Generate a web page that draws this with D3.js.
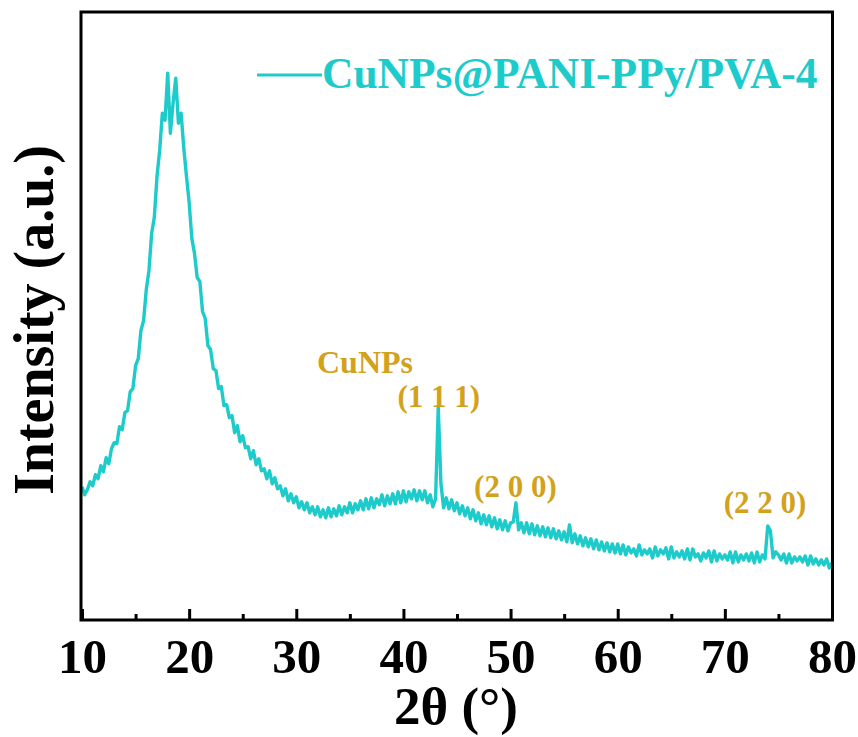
<!DOCTYPE html>
<html>
<head>
<meta charset="utf-8">
<script src="https://cdn.jsdelivr.net/npm/d3@7"></script>
<style>
  body { margin: 0; background: #fff; }
  svg { display: block; }
  text { font-family: "Liberation Serif", "Times New Roman", serif; font-weight: bold; }
</style>
</head>
<body>
<div id="chart"></div>
<script>
// XRD pattern, sampled every 0.25 deg from 10 to 80 (one row per degree)
const thetaStart = 10
const thetaStep = 0.25
const intensity = [
  1320, 1240, 1290, 1370,
  1330, 1440, 1400, 1530,
  1470, 1610, 1550, 1700,
  1760, 1750, 1920, 1890,
  2060, 2080, 2270, 2300,
  2530, 2600, 2880, 2980,
  3290, 3480, 3850, 4010,
  4420, 4680, 5050, 4980,
  5450, 4850, 5150, 5400,
  4950, 5050, 4700, 4420,
  4160, 3800, 3650, 3410,
  3370, 3070, 3000, 2730,
  2690, 2500, 2480, 2300,
  2320, 2130, 2140, 2010,
  2030, 1860, 1930, 1770,
  1830, 1710, 1720, 1600,
  1680, 1540, 1600, 1480,
  1500, 1400, 1480, 1350,
  1410, 1300, 1330, 1230,
  1300, 1180, 1250, 1160,
  1220, 1110, 1170, 1090,
  1160, 1060, 1120, 1040,
  1120, 1020, 1090, 1010,
  1110, 1020, 1100, 1030,
  1130, 1040, 1120, 1060,
  1160, 1060, 1150, 1090,
  1180, 1090, 1200, 1100,
  1210, 1110, 1200, 1140,
  1240, 1130, 1230, 1150,
  1250, 1150, 1270, 1160,
  1280, 1170, 1270, 1200,
  1290, 1180, 1280, 1190,
  1280, 1160, 1240, 1120,
  1200, 2110, 1350, 1110,
  1210, 1100, 1190, 1080,
  1160, 1050, 1130, 1030,
  1110, 1000, 1090, 980,
  1060, 950, 1040, 940,
  1030, 920, 1010, 900,
  990, 890, 980, 880,
  960, 970, 1160, 890,
  960, 860, 960, 850,
  950, 840, 930, 830,
  920, 820, 910, 810,
  900, 800, 880, 790,
  870, 770, 940, 760,
  850, 750, 830, 730,
  810, 720, 800, 700,
  790, 690, 770, 680,
  760, 670, 750, 660,
  750, 650, 740, 640,
  720, 660, 700, 630,
  740, 640, 690, 650,
  700, 610, 720, 630,
  690, 650, 710, 600,
  720, 610, 670, 620,
  680, 600, 700, 590,
  700, 620, 650, 580,
  660, 610, 680, 570,
  680, 580, 650, 600,
  640, 590, 670, 560,
  670, 570, 640, 590,
  650, 580, 660, 560,
  670, 570, 640, 600,
  930, 880, 610, 670,
  640, 590, 650, 560,
  650, 560, 620, 580,
  620, 570, 630, 540,
  630, 550, 600, 540,
  590, 540, 600, 510,
  560
]

const majorTicks = [10, 20, 30, 40, 50, 60, 70, 80]
const minorTicks = [15, 25, 35, 45, 55, 65, 75]

const peakLabels = ['(1 1 1)', '(2 0 0)', '(2 2 0)']
const peakTheta = [43.3, 50.45, 73.75]
const peakLabelIntensity = [2116, 1218, 1058]

const seriesName = 'CuNPs@PANI-PPy/PVA-4'
const lineColor = '#1ecbcb'
const labelColor = '#d2a21c'

const width = 858
const height = 737
const margin = { top: 12, right: 26, bottom: 118, left: 82 }

const svg = d3.select('#chart').append('svg')
  .attr('width', width)
  .attr('height', height)

const x = d3.scaleLinear()
  .domain([10, 80])
  .range([margin.left, width - margin.right])

const y = d3.scaleLinear()
  .domain([0, 6060])
  .range([height - margin.bottom, margin.top])

const data = intensity.map((v, i) => ({ theta: thetaStart + i * thetaStep, value: v }))

const line = d3.line()
  .x(d => x(d.theta))
  .y(d => y(d.value))

svg.append('path')
  .datum(data)
  .attr('fill', 'none')
  .attr('stroke', lineColor)
  .attr('stroke-width', 3.4)
  .attr('stroke-linejoin', 'round')
  .attr('d', line)

// frame
svg.append('rect')
  .attr('x', margin.left - 1)
  .attr('y', margin.top)
  .attr('width', width - margin.right - margin.left + 1.5)
  .attr('height', height - margin.bottom - margin.top + 1)
  .attr('fill', 'none')
  .attr('stroke', '#000')
  .attr('stroke-width', 3)

// x axis, ticks pointing inward
const axisMajor = d3.axisBottom(x)
  .tickValues(majorTicks)
  .tickSize(-11)
  .tickPadding(18)
  .tickFormat(d3.format('d'))

const gx = svg.append('g')
  .attr('transform', 'translate(0,' + (height - margin.bottom + 1) + ')')
  .call(axisMajor)
gx.select('.domain').remove()
gx.selectAll('line').attr('stroke', '#000').attr('stroke-width', 3)
gx.selectAll('text')
  .attr('fill', '#000')
  .attr('font-size', 49)
  .attr('dy', '0.71em')

const axisMinor = d3.axisBottom(x)
  .tickValues(minorTicks)
  .tickSize(-6)
  .tickFormat('')
const gm = svg.append('g')
  .attr('transform', 'translate(0,' + (height - margin.bottom + 1) + ')')
  .call(axisMinor)
gm.select('.domain').remove()
gm.selectAll('line').attr('stroke', '#000').attr('stroke-width', 3)

// axis titles
svg.append('text')
  .attr('x', 456)
  .attr('y', 724)
  .attr('text-anchor', 'middle')
  .attr('font-size', 53)
  .text('2θ (°)')

svg.append('text')
  .attr('transform', 'translate(53,' + 320 + ') rotate(-90)')
  .attr('text-anchor', 'middle')
  .attr('font-size', 56)
  .text('Intensity (a.u.)')

// legend
svg.append('line')
  .attr('x1', 257).attr('x2', 322)
  .attr('y1', 75).attr('y2', 75)
  .attr('stroke', lineColor)
  .attr('stroke-width', 3)

svg.append('text')
  .attr('x', 322)
  .attr('y', 88)
  .attr('fill', lineColor)
  .attr('font-size', 43.5)
  .text(seriesName)

// peak annotations
svg.append('text')
  .attr('x', 317)
  .attr('y', 373)
  .attr('fill', labelColor)
  .attr('font-size', 32)
  .text('CuNPs')

svg.selectAll('.peak-label')
  .data(peakLabels)
  .enter()
  .append('text')
  .attr('class', 'peak-label')
  .attr('x', (d, i) => x(peakTheta[i]))
  .attr('y', (d, i) => y(peakLabelIntensity[i]))
  .attr('text-anchor', 'middle')
  .attr('fill', labelColor)
  .attr('font-size', 31)
  .text(d => d)
</script>
</body>
</html>
